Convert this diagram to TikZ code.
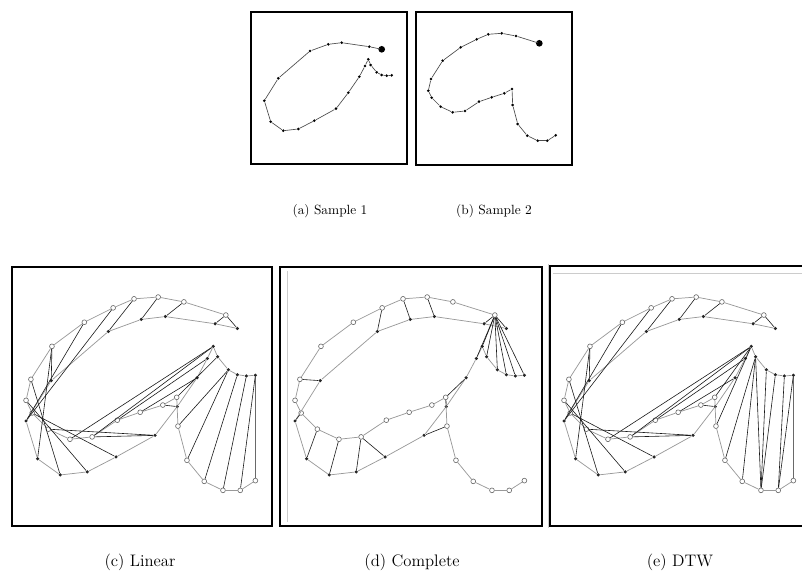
\documentclass[tikz,border=0pt]{standalone}

% sample points, in pixels of the small panels
\newcommand\sampleone{381.7/49.3,369.3/46.7,341.7/42.7,328.3/44.3,310/51,278.3/78.3,264.3/100.7,270.7/121.7,283.3/130.7,298.3/129,314.3/120.7,336/108.7,348.3/92.7,359.3/76.7,365/66,368.3/59.3,370.7/65,376.7/72.3,381.7/75,386.7/75.7,391.7/75.3}
\newcommand\sampletwo{539.3/43.3,516/36,501.7/33.3,488.3/34.3,476.7/39.3,460.7/47.3,442.7/60.7,431/79,428.3/90.7,431.7/97.7,440.7/106.7,452.7/112.3,465/111,479/101.7,491.7/97.3,504.3/93.3,512/89,512.7/105,517.7/124,527.3/135.7,537.7/140.7,547.3/140.7,555.7/135.3}

% matched pairs (sample 1 / sample 2)
\newcommand\linklinear{1/1,2/1,3/2,4/3,5/4,6/7,7/5,7/6,8/7,9/8,10/9,11/10,12/11,12/13,13/16,14/15,15/14,16/13,16/12,17/17,18/18,18/19,19/20,20/21,21/22,21/23}
\newcommand\linkcomplete{1/1,2/1,3/3,4/4,5/5,6/8,7/10,8/11,9/12,10/13,11/13,12/18,13/17,14/17,15/1,16/1,17/1,18/1,19/1,20/1,21/1}
\newcommand\linkdtw{1/1,2/1,3/2,4/3,5/4,6/7,7/5,7/6,8/7,9/8,10/9,11/10,12/11,12/13,13/16,14/15,15/14,16/13,16/12,16/17,16/18,17/19,17/20,17/21,18/21,19/21,20/22,21/22,21/23}

% one overlay panel: #1 name, #2 x offset, #3 pairs
\newcommand{\matchpanel}[3]{%
  \begin{scope}[shift={(#2-449.7,239.7)},scale=1.8]
    \foreach \x/\y [count=\i] in \sampleone {\node[dot] (#1-p\i) at (\x,\y) {};}
  \end{scope}
  \begin{scope}[shift={(#2-744.9,237.1)},scale=1.8]
    \foreach \x/\y [count=\i] in \sampletwo {\node[ring] (#1-q\i) at (\x,\y) {};}
  \end{scope}
  \foreach \i [remember=\i as \j (initially 1)] in {2,...,21} {\draw[curve] (#1-p\j) -- (#1-p\i);}
  \foreach \i [remember=\i as \j (initially 1)] in {2,...,23} {\draw[curve] (#1-q\j) -- (#1-q\i);}
  \foreach \a/\b in #3 {\draw[link] (#1-p\a) -- (#1-q\b);}
}

\begin{document}
\begin{tikzpicture}[
        x=0.75pt, y=-0.75pt,
        panelframe/.style={draw=black, line width=1.5pt},
        bigframe/.style={draw=black, line width=1.8pt},
        faint/.style={draw=black!20, line width=0.4pt},
        sdot/.style={circle, fill=black, inner sep=0pt, minimum size=2.2pt},
        startdot/.style={circle, fill=black, inner sep=0pt, minimum size=5pt},
        dot/.style={circle, fill=black!85, inner sep=0pt, minimum size=2.6pt},
        ring/.style={circle, draw=black!60, fill=white, inner sep=0pt, minimum size=3.6pt, line width=0.45pt},
        trace/.style={draw=black!70, line width=0.5pt},
        curve/.style={draw=black!40, line width=0.55pt},
        link/.style={draw=black!90, line width=0.45pt},
        smallcap/.style={font=\fontsize{10}{12}\selectfont},
        bigcap/.style={font=\fontsize{12.5}{14}\selectfont}
    ]
    \useasboundingbox (0,0) rectangle (802,575);

    % (a) and (b)
    \draw[panelframe] (251,12) rectangle (407,164);
    \draw[panelframe] (416,12) rectangle (572,165);
    \foreach \x/\y [count=\i] in \sampleone {\node[sdot] (a-p\i) at (\x,\y) {};}
    \foreach \x/\y [count=\i] in \sampletwo {\node[sdot] (b-q\i) at (\x,\y) {};}
    \node[startdot] (a-start) at (a-p1) {};
    \node[startdot] (b-start) at (b-q1) {};
    \foreach \i [remember=\i as \j (initially 1)] in {2,...,21} {\draw[trace] (a-p\j) -- (a-p\i);}
    \foreach \i [remember=\i as \j (initially 1)] in {2,...,23} {\draw[trace] (b-q\j) -- (b-q\i);}
    \node[smallcap] (capa) at (330,211) {(a) Sample 1};
    \node[smallcap] (capb) at (494,211) {(b) Sample 2};

    % (c), (d), (e)
    \draw[bigframe] (12,267) rectangle (272,526);
    \draw[bigframe] (280,267) rectangle (542,526);
    \draw[bigframe] (550,266) rectangle (808,526);
    \draw[faint] (287,271) -- (287,522);
    \draw[faint] (548,264) -- (548,528);
    \draw[faint] (553,273) -- (802,273);

    \matchpanel{lin}{0}{\linklinear}
    \matchpanel{com}{269}{\linkcomplete}
    \matchpanel{dtw}{538}{\linkdtw}

    \node[bigcap] (capc) at (140,562) {(c) Linear};
    \node[bigcap] (capd) at (412,562) {(d) Complete};
    \node[bigcap] (cape) at (680,562) {(e) DTW};
\end{tikzpicture}
\end{document}
